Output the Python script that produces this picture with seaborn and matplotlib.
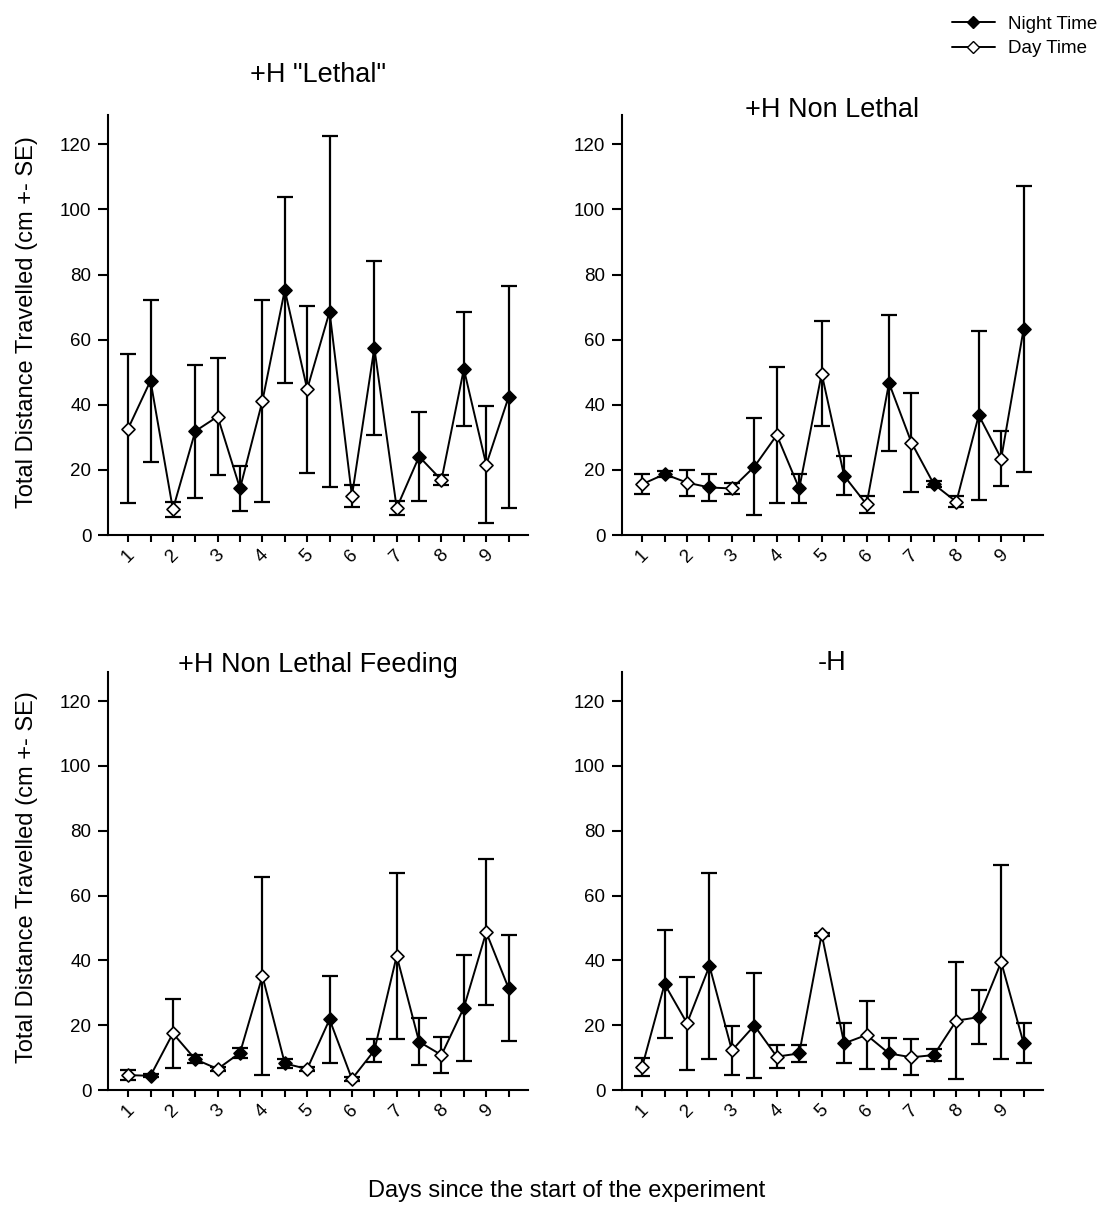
import numpy as np
import pandas as pd
import matplotlib
matplotlib.use("Agg")
import matplotlib.pyplot as plt
from matplotlib.lines import Line2D
import seaborn as sns

sns.set_style("ticks")
plt.rcParams['font.family'] = ['Liberation Sans', 'DejaVu Sans']
plt.rcParams['text.color'] = 'black'
plt.rcParams['axes.labelcolor'] = 'black'
plt.rcParams['xtick.color'] = 'black'
plt.rcParams['ytick.color'] = 'black'

days = [1, 2, 3, 4, 5, 6, 7, 8, 9]
titles = ['+H "Lethal"', '+H Non Lethal', '+H Non Lethal Feeding', '-H']

# +H "Lethal"
lethal_day_mean = [32.7, 7.9, 36.4, 41.2, 44.8, 12.0, 8.3, 16.9, 21.6]
lethal_day_se = [23.0, 2.3, 18.0, 31.0, 25.7, 3.3, 2.0, 1.6, 18.0]
lethal_night_mean = [47.4, 31.9, 14.3, 75.3, 68.6, 57.5, 24.1, 51.0, 42.4]
lethal_night_se = [24.9, 20.4, 7.0, 28.5, 54.0, 26.7, 13.7, 17.6, 34.0]

# +H Non Lethal
nonlethal_day_mean = [15.6, 16.1, 14.3, 30.7, 49.6, 9.4, 28.4, 10.2, 23.5]
nonlethal_day_se = [3.1, 4.0, 1.7, 21.0, 16.0, 2.6, 15.3, 1.7, 8.5]
nonlethal_night_mean = [18.7, 14.6, 21.0, 14.3, 18.2, 46.7, 15.6, 36.8, 63.3]
nonlethal_night_se = [1.0, 4.0, 15.0, 4.5, 6.0, 21.0, 1.0, 26.0, 44.0]

# +H Non Lethal Feeding
feeding_day_mean = [4.6, 17.5, 6.5, 35.2, 6.5, 3.4, 41.4, 10.8, 48.7]
feeding_day_se = [1.5, 10.7, 0.5, 30.5, 0.5, 0.5, 25.7, 5.5, 22.6]
feeding_night_mean = [4.4, 9.5, 11.5, 8.2, 21.8, 12.2, 14.9, 25.4, 31.4]
feeding_night_se = [0.5, 1.2, 1.5, 1.4, 13.4, 3.5, 7.3, 16.3, 16.3]

# -H
noh_day_mean = [7.2, 20.6, 12.2, 10.3, 48.1, 17.0, 10.1, 21.4, 39.5]
noh_day_se = [2.8, 14.3, 7.6, 3.6, 0.5, 10.5, 5.5, 18.0, 30.0]
noh_night_mean = [32.7, 38.3, 19.9, 11.3, 14.4, 11.3, 10.8, 22.5, 14.4]
noh_night_se = [16.7, 28.7, 16.3, 2.7, 6.2, 4.9, 1.8, 8.4, 6.2]

panels = [
    (lethal_day_mean, lethal_day_se, lethal_night_mean, lethal_night_se),
    (nonlethal_day_mean, nonlethal_day_se, nonlethal_night_mean, nonlethal_night_se),
    (feeding_day_mean, feeding_day_se, feeding_night_mean, feeding_night_se),
    (noh_day_mean, noh_day_se, noh_night_mean, noh_night_se),
]

fig = plt.figure(figsize=(11.02, 12.05), dpi=100)
rects = [
    [0.098, 0.556, 0.381, 0.3485],
    [0.5644, 0.556, 0.382, 0.3485],
    [0.098, 0.0954, 0.381, 0.347],
    [0.5644, 0.0954, 0.382, 0.347],
]
title_y = [1.0786, 0.995, 1.0, 1.005]

xticks = np.arange(1, 10, 0.5)
xticklabels = [str(int(t)) if float(t).is_integer() else '' for t in xticks]

for i, (dm, ds, nm, ns) in enumerate(panels):
    ax = fig.add_axes(rects[i])
    d = np.array(days, dtype=float)
    df = pd.DataFrame({
        'x': np.concatenate([d, d + 0.5]),
        'y': np.concatenate([dm, nm]),
        'se': np.concatenate([ds, ns]),
        'period': ['Day'] * 9 + ['Night'] * 9,
    }).sort_values('x')
    sns.lineplot(data=df, x='x', y='y', color='black', lw=1.4, ax=ax,
                 estimator=None, sort=True, zorder=2)
    ax.errorbar(df['x'], df['y'], yerr=df['se'], fmt='none', ecolor='black',
                elinewidth=1.6, capsize=5.5, capthick=1.6, zorder=1)
    night = df[df['period'] == 'Night']
    day = df[df['period'] == 'Day']
    sns.scatterplot(data=night, x='x', y='y', marker='D', s=44, color='black',
                    edgecolor='black', linewidth=1.2, ax=ax, zorder=3)
    sns.scatterplot(data=day, x='x', y='y', marker='D', s=44, color='white',
                    edgecolor='black', linewidth=1.2, ax=ax, zorder=3)
    ax.set_xlim(0.55, 9.93)
    ax.set_ylim(0, 129)
    ax.set_yticks([0, 20, 40, 60, 80, 100, 120])
    ax.set_xticks(xticks)
    ax.set_xticklabels(xticklabels, rotation=45, ha='center', va='top')
    ax.set_xlabel('')
    ax.set_ylabel('')
    for s in ['top', 'right']:
        ax.spines[s].set_visible(False)
    for s in ['left', 'bottom']:
        ax.spines[s].set_linewidth(1.5)
        ax.spines[s].set_color('black')
    ax.tick_params(axis='y', direction='out', length=7, width=1.5,
                   labelsize=13.5, pad=5, colors='black')
    ax.tick_params(axis='x', direction='out', length=5, width=1.5,
                   labelsize=13.5, pad=3, colors='black')
    ax.text(0.5, title_y[i], titles[i], transform=ax.transAxes,
            ha='center', va='baseline', fontsize=19.5, color='black')

fig.text(0.0245, 0.733, 'Total Distance Travelled (cm +- SE)', rotation=90,
         ha='center', va='center', fontsize=17, color='black')
fig.text(0.0245, 0.272, 'Total Distance Travelled (cm +- SE)', rotation=90,
         ha='center', va='center', fontsize=17, color='black')
fig.text(0.5145, 0.0066, 'Days since the start of the experiment',
         ha='center', va='baseline', fontsize=17, color='black')

handles = [
    Line2D([0], [0], color='black', lw=1.4, marker='D', markersize=6.5,
           markerfacecolor='black', markeredgecolor='black'),
    Line2D([0], [0], color='black', lw=1.4, marker='D', markersize=6.5,
           markerfacecolor='white', markeredgecolor='black'),
]
fig.legend(handles, ['Night Time', 'Day Time'], loc='upper right',
           bbox_to_anchor=(1.004, 0.995), frameon=False, fontsize=13.5,
           handlelength=2.3, handletextpad=0.7, labelspacing=0.4, borderpad=0)

fig.savefig('out.png', dpi=100)
